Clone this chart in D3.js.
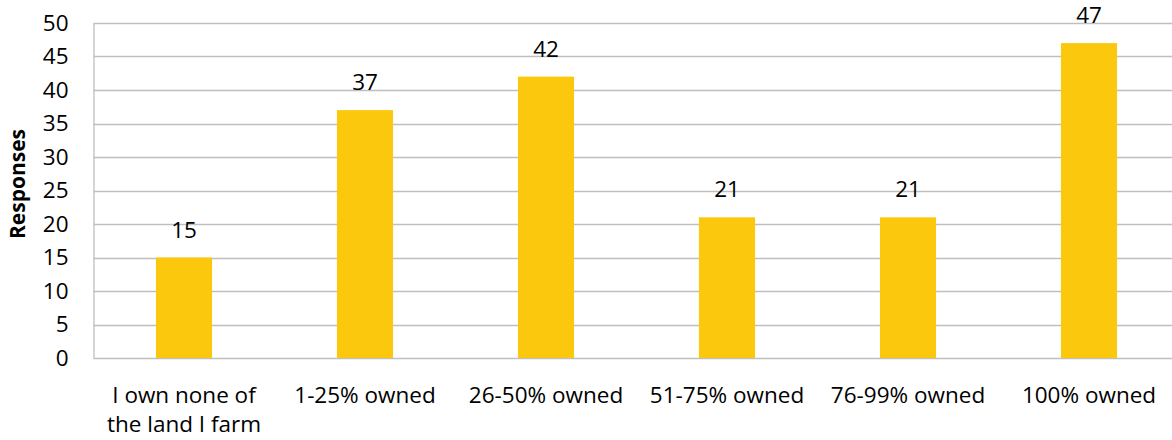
<!DOCTYPE html>
<html><head><meta charset="utf-8">
<script src="https://cdn.jsdelivr.net/npm/d3@7"></script>
<style>body{margin:0;background:#fff}svg{display:block}</style>
</head><body>
<script>
const categories = [["I own none of","the land I farm"],["1-25% owned"],["26-50% owned"],["51-75% owned"],["76-99% owned"],["100% owned"]];
const values = [15, 37, 42, 21, 21, 47];
const yTicks = [0,5,10,15,20,25,30,35,40,45,50];
const yTitle = "Responses";

(function() {
const W = 1172, H = 440;
const mLeft = 93.5, mTop = 23, mBottom = 358, mRight = 1179.5;
const font = "'Open Sans', sans-serif";
const fs = 22.5;

const svg = d3.select("body").append("svg").attr("width", W).attr("height", H);

const x = d3.scaleBand().domain(d3.range(categories.length)).range([mLeft, mRight]).paddingInner(0.69).paddingOuter(0.345);
const y = d3.scaleLinear().domain([0, 50]).range([mBottom, mTop]);

// gridlines
svg.append("g").selectAll("line").data(yTicks).join("line")
  .attr("x1", mLeft).attr("x2", W).attr("y1", d => Math.round(y(d)) + 0.5).attr("y2", d => Math.round(y(d)) + 0.5)
  .attr("stroke", "#BFBFBF").attr("stroke-width", 1.3);

// y axis
const yAxis = d3.axisLeft(y).tickValues(yTicks).tickSize(0).tickPadding(0);
const ga = svg.append("g").attr("transform", `translate(${mLeft},0)`).call(yAxis);
ga.select(".domain").attr("stroke", "#BFBFBF").attr("stroke-width", 1.3);
ga.selectAll("text").attr("x", -25).attr("font-family", font).attr("font-size", fs).attr("fill", "#000");

// bars
svg.append("g").selectAll("rect").data(values).join("rect")
  .attr("x", (d, i) => x(i)).attr("width", x.bandwidth())
  .attr("y", d => y(d)).attr("height", d => y(0) - y(d))
  .attr("fill", "#FCC80E");

// value labels
svg.append("g").selectAll("text").data(values).join("text")
  .attr("x", (d, i) => x(i) + x.bandwidth() / 2).attr("y", d => y(d) - 20)
  .attr("text-anchor", "middle").attr("font-family", font).attr("font-size", fs).attr("fill", "#000")
  .text(d => d);

// category labels
const cl = svg.append("g").selectAll("text").data(categories).join("text")
  .attr("x", (d, i) => x(i) + x.bandwidth() / 2).attr("y", 403)
  .attr("text-anchor", "middle").attr("font-family", font).attr("font-size", fs).attr("fill", "#000");
cl.selectAll("tspan").data(d => d).join("tspan")
  .attr("x", function() { return d3.select(this.parentNode).attr("x"); })
  .attr("dy", (d, i) => i === 0 ? 0 : 29).text(d => d);

// y title
svg.append("text").attr("transform", "translate(25,184) rotate(-90)")
  .attr("text-anchor", "middle").attr("font-family", font).attr("font-size", 21).attr("font-weight", "bold").attr("fill", "#000")
  .text(yTitle);
})();
</script>
</body></html>
